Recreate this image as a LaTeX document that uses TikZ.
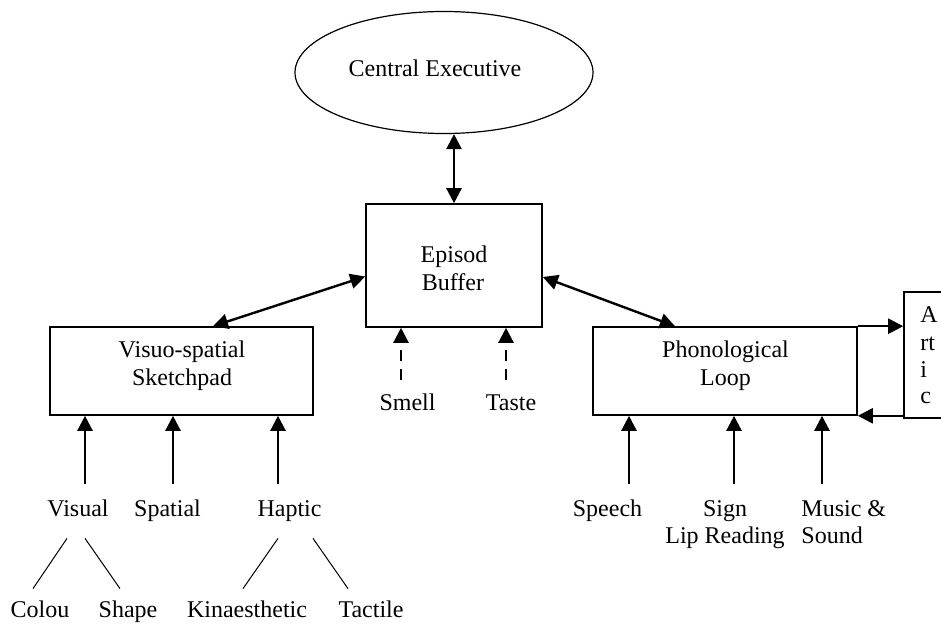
\documentclass[tikz,border=0pt]{standalone}
\usepackage{fontspec}
\setmainfont{Liberation Serif}
\usetikzlibrary{arrows.meta,shapes.geometric}
\begin{document}
\begin{tikzpicture}[x=0.5pt,y=-0.5pt,
  font=\fontsize{12pt}{13.8pt}\selectfont,
  box/.style={draw,line width=0.8pt,inner sep=0pt},
  lbl/.style={inner sep=0pt,text height=8pt,text depth=2.5pt,anchor=base},
  lblw/.style={lbl,anchor=base west},
  tip/.tip={Triangle[length=7.5pt,width=7.5pt]},
  arr/.style={-tip,line width=1.2pt},
  dbl/.style={tip-tip,line width=1.2pt},
  dashline/.style={dash pattern=on 5.5pt off 4pt},
  thinline/.style={line width=0.5pt}]

\fill[white] (0,0) rectangle (941,626);
\useasboundingbox (0,0) rectangle (941,626);

% components of the model
\node[ellipse,draw,line width=0.6pt,inner sep=0pt,
      minimum width=149pt,minimum height=61pt] (ce) at (444,72.5) {};
\node[box,minimum width=88pt,minimum height=61.5pt] (eb) at (454,265.5) {};
\node[box,minimum width=131.5pt,minimum height=44pt] (vs) at (181.5,371) {};
\node[box,minimum width=132pt,minimum height=44pt] (pl) at (725,371) {};
\node[box,minimum width=40pt,minimum height=63pt] (art) at (944,355) {};

% box texts
\node[lbl] (ceT) at (435,76) {Central Executive};
\node[lbl] (ebT1) at (454,262) {Episod};
\node[lbl] (ebT2) at (453,290) {Buffer};
\node[lbl] (vsT1) at (182,357) {Visuo-spatial};
\node[lbl] (vsT2) at (182,385) {Sketchpad};
\node[lbl] (plT1) at (725.5,357) {Phonological};
\node[lbl] (plT2) at (725.5,385) {Loop};
\node[lblw] (arA) at (920,322) {A};
\node[lblw] (arB) at (920,350) {rt};
\node[lblw] (arC) at (920,377) {i};
\node[lblw] (arD) at (920,403) {c};

% sensory inputs
\node[lbl] (sme) at (407.5,410) {Smell};
\node[lbl] (tas) at (511,410) {Taste};
\node[lbl] (vis) at (78,516) {Visual};
\node[lbl] (spa) at (167.5,516) {Spatial};
\node[lbl] (hap) at (289.5,516) {Haptic};
\node[lbl] (spe) at (607.5,516) {Speech};
\node[lbl] (sig) at (725,516) {Sign};
\node[lbl] (lip) at (725,543) {Lip Reading};
\node[lblw] (mus) at (801,516) {Music \&};
\node[lblw] (sou) at (801,543) {Sound};
\node[lbl] (col) at (40,617) {Colou};
\node[lbl] (shp) at (128,617) {Shape};
\node[lbl] (kin) at (247,617) {Kinaesthetic};
\node[lbl] (tac) at (371,617) {Tactile};

% links between components
\draw[dbl] (ce.south -| eb.north) -- (eb.north);
\draw[dbl] ([yshift=-5.5pt]eb.west) -- ([xshift=15.75pt]vs.north);
\draw[dbl] ([yshift=-5.75pt]eb.east) -- ([xshift=-25pt]pl.north);
\draw[arr] (pl.north east) -- (pl.north east -| art.west);
\draw[arr] (pl.south east -| art.west) -- (pl.south east);

% smell and taste
\draw[arr,dashline] ([shift={(-6.5,-14)}]sme.north) coordinate (s1) -- (s1 |- eb.south);
\draw[arr,dashline] ([shift={(-5,-14)}]tas.north) coordinate (s2) -- (s2 |- eb.south);

% inputs to the sketchpad
\draw[arr] ([shift={(7,-16)}]vis.north) coordinate (v1) -- (v1 |- vs.south);
\draw[arr] ([shift={(5.5,-16)}]spa.north) coordinate (v2) -- (v2 |- vs.south);
\draw[arr] ([shift={(-11.5,-16)}]hap.north) coordinate (v3) -- (v3 |- vs.south);

% inputs to the loop
\draw[arr] ([shift={(21.5,-16)}]spe.north) coordinate (p1) -- (p1 |- pl.south);
\draw[arr] ([shift={(9,-16)}]sig.north) coordinate (p2) -- (p2 |- pl.south);
\draw[arr] ([shift={(21,-16)}]mus.north west) coordinate (p3) -- (p3 |- pl.south);

% sub-features
\draw[thinline] ([shift={(-11,17)}]vis.south) -- ([shift={(-7,-12)}]col.north);
\draw[thinline] ([shift={(7,17)}]vis.south) -- ([shift={(-8,-12)}]shp.north);
\draw[thinline] ([shift={(-11.5,17)}]hap.south) -- ([shift={(-4,-12)}]kin.north);
\draw[thinline] ([shift={(23.5,17)}]hap.south) -- ([shift={(-23,-12)}]tac.north);
\end{tikzpicture}
\end{document}
